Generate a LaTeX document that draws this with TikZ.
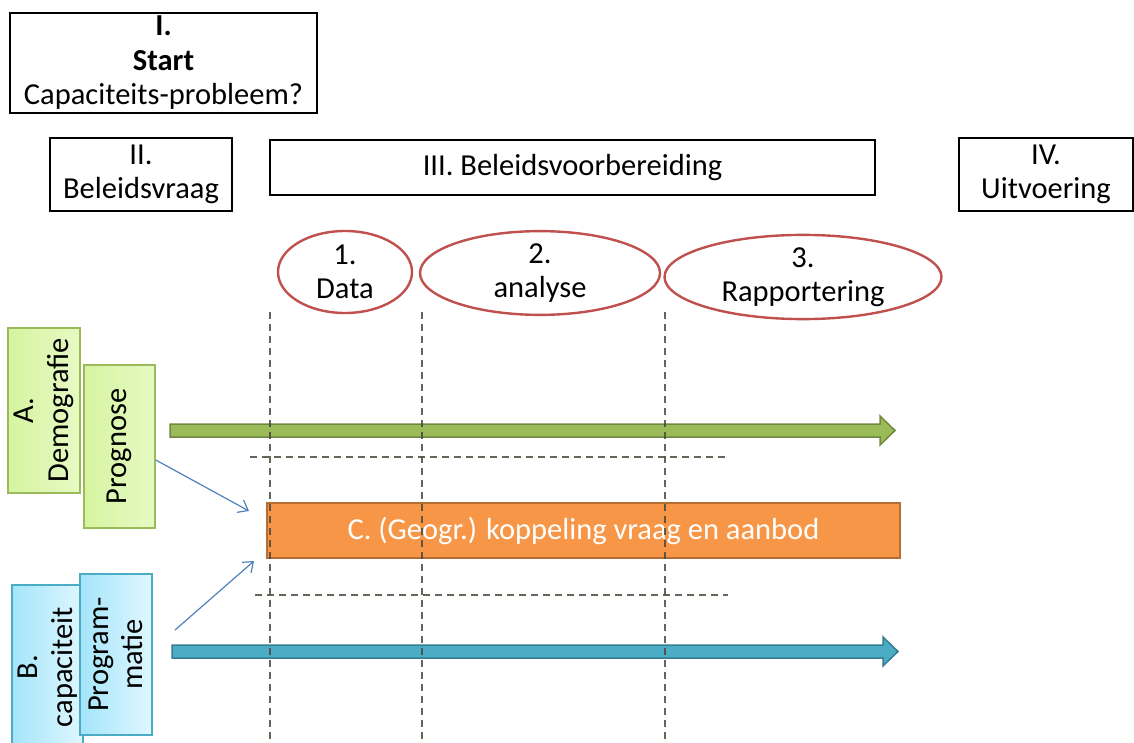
\documentclass[tikz,border=0pt]{standalone}
\usepackage{fontspec}
\setmainfont{Carlito}
\usepackage{xcolor}
\usetikzlibrary{shapes.geometric,arrows.meta,shadows}
\definecolor{ellred}{HTML}{C0504D}
\definecolor{grnline}{HTML}{9BBB59}
\definecolor{grntop}{HTML}{E6FAC4}
\definecolor{grnbot}{HTML}{D6F4A0}
\definecolor{grnarrow}{HTML}{9BBB59}
\definecolor{grnarrowline}{HTML}{71893F}
\definecolor{blueline}{HTML}{4BACC6}
\definecolor{bluetop}{HTML}{E0F7FF}
\definecolor{bluebot}{HTML}{A4E5FA}
\definecolor{bluearrow}{HTML}{4BACC6}
\definecolor{bluearrowline}{HTML}{357D91}
\definecolor{orangefill}{HTML}{F79646}
\definecolor{orangeline}{HTML}{B66D31}
\definecolor{thinblue}{HTML}{4F81BD}
\definecolor{dashgray}{HTML}{4A4A3C}
\begin{document}
\begin{tikzpicture}[x=1pt,y=-1pt,
  txt/.style={font=\fontsize{30.5}{34.5}\selectfont, align=center, inner sep=0pt},
  phase/.style={txt, draw=black, line width=2.8pt, rectangle},
  stepell/.style={txt, ellipse, draw=ellred, line width=2.4pt},
  greenbox/.style={txt, rotate=90, draw=grnline, line width=1.5pt, left color=grnbot, right color=grntop},
  bluebox/.style={txt, rotate=90, draw=blueline, line width=1.5pt, left color=bluebot, right color=bluetop},
  thinarr/.style={draw=thinblue, line width=1.2pt, -{Straight Barb[length=9pt,width=14pt]}},
  grid line/.style={dashgray, line width=1.3pt, dash pattern=on 7pt off 5pt, opacity=0.85}]
\useasboundingbox (0,0) rectangle (1134,743);

\node[phase, minimum width=307pt, minimum height=100pt] (start) at (163.5,63)
  {\textbf{I.}\\ \textbf{Start}\\ Capaciteits-probleem?};
\node[phase, minimum width=182pt, minimum height=73pt] (vraag) at (141,174.5) {II.\\ Beleidsvraag};
\node[phase, minimum width=605pt, minimum height=55pt] (voorb) at (572.5,167.5) {III. Beleidsvoorbereiding};
\node[phase, minimum width=174pt, minimum height=73pt] (uitv) at (1046,174.5) {IV.\\ Uitvoering};

\node[stepell, minimum width=134pt, minimum height=82pt] (data) at (345,272) {1.\\ Data};
\node[stepell, minimum width=240pt, minimum height=80pt] (analyse) at (540,273) {2.\\ analyse};
\node[stepell, minimum width=277pt, minimum height=77pt] (rapport) at (803,277) {3.\\ Rapportering};

\node[greenbox, minimum width=165pt, minimum height=72pt] (demo) at (44,410.5) {A.\\ Demografie};
\node[greenbox, minimum width=163pt, minimum height=71pt] (prog) at (119.5,446.5) {Prognose};
\node[bluebox, minimum width=164pt, minimum height=71pt] (cap) at (47.5,667) {B.\\ capaciteit};
\node[bluebox, minimum width=161pt, minimum height=72pt] (progr) at (116,654.5) {Program-\\ matie};

\filldraw[fill=grnarrow, draw=grnarrowline, line width=1.5pt]
  (170,424) -- (880,424) -- (880,416) -- (895,430.5) -- (880,445) -- (880,437) -- (170,437) -- cycle;
\filldraw[fill=bluearrow, draw=bluearrowline, line width=1.5pt]
  (172,645) -- (883,645) -- (883,637) -- (898,651.5) -- (883,666) -- (883,658) -- (172,658) -- cycle;

\node[txt, rectangle, fill=orangefill, draw=orangeline, line width=2pt, text=white,
  minimum width=633pt, minimum height=55pt] (koppel) at (583.5,530.5)
  {C. (Geogr.) koppeling vraag en aanbod};

\coordinate (b1) at (175,630);
\draw[thinarr] ([yshift=-13.5pt]prog.south) -- ([xshift=-17pt,yshift=-9pt]koppel.north west);
\draw[thinarr] (b1) -- ([xshift=-12pt,yshift=-2pt]koppel.south west);

\draw[grid line] (270,312) -- (270,743);
\draw[grid line] (422,312) -- (422,743);
\draw[grid line] (665,312) -- (665,743);
\draw[grid line] (250,457) -- (725,457);
\draw[grid line] (255,595) -- (728,595);
\end{tikzpicture}
\end{document}
